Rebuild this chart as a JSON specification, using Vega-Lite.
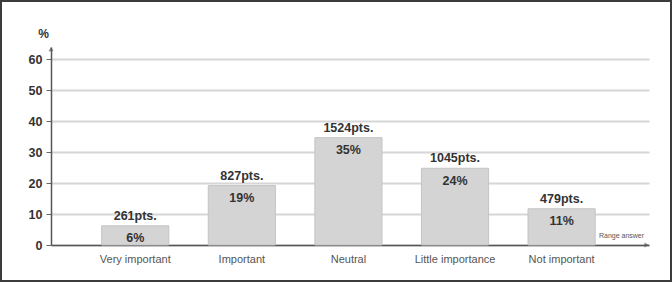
{
  "$schema": "https://vega.github.io/schema/vega-lite/v6.json",
  "autosize": {"type": "none"},
  "padding": {"left": 1, "top": 1, "right": 1, "bottom": 1},
  "width": 670,
  "height": 280,
  "config": {
    "view": {"stroke": "#3c3c3c", "strokeWidth": 2},
    "font": "Liberation Sans"
  },
  "datasets": {
    "answers": [
      {"answer": "Very important", "pct": 6.2, "pctLabel": "6%", "pts": "261pts."},
      {"answer": "Important", "pct": 19.2, "pctLabel": "19%", "pts": "827pts."},
      {"answer": "Neutral", "pct": 34.7, "pctLabel": "35%", "pts": "1524pts."},
      {"answer": "Little importance", "pct": 24.8, "pctLabel": "24%", "pts": "1045pts."},
      {"answer": "Not important", "pct": 11.7, "pctLabel": "11%", "pts": "479pts."}
    ],
    "arrows": [
      {"ax": 0, "ay": 63.3, "dir": "up"},
      {"ax": 0.996, "ay": 0, "dir": "right"}
    ]
  },
  "layer": [
    {
      "data": {"name": "answers"},
      "encoding": {
        "x": {
          "field": "answer", "type": "nominal", "sort": null,
          "scale": {"range": [50, 648], "paddingInner": 0.37, "paddingOuter": 0.49, "align": 0.485},
          "axis": {
            "orient": "bottom", "offset": -36, "title": "Range answer",
            "titleFontSize": 7, "titleFontWeight": "normal", "titleColor": "#555",
            "titleX": 620, "titleY": -10, "titleAlign": "center", "titleBaseline": "middle",
            "labelAngle": 0, "labelFontSize": 11, "labelColor": "#555", "labelPadding": 8,
            "ticks": false, "domainColor": "#555", "domainWidth": 1.5, "grid": false
          }
        },
        "y": {
          "field": "pct", "type": "quantitative",
          "scale": {"domain": [0, 64], "range": [244, 46], "nice": false},
          "axis": {
            "offset": -50, "values": [0, 10, 20, 30, 40, 50, 60],
            "title": "%", "titleAngle": 0, "titleX": -8, "titleY": 32.5,
            "titleAlign": "center", "titleBaseline": "middle",
            "titleFontSize": 12, "titleFontWeight": "bold", "titleColor": "#333",
            "labelFontSize": 12.5, "labelFontWeight": "bold", "labelColor": "#333",
            "labelPadding": 4, "tickSize": 5, "tickColor": "#666",
            "domainColor": "#555", "domainWidth": 1.5,
            "gridColor": "#d6d6d6", "gridWidth": 2
          }
        }
      },
      "layer": [
        {"mark": {"type": "bar", "fill": "#d4d4d4", "stroke": "#c4c4c4", "strokeWidth": 1}},
        {
          "mark": {"type": "text", "fontSize": 12.5, "fontWeight": "bold", "color": "#333", "baseline": "middle", "dy": -10},
          "encoding": {"text": {"field": "pts"}}
        },
        {
          "mark": {"type": "text", "fontSize": 12.5, "fontWeight": "bold", "color": "#333", "baseline": "middle", "dy": 12.5},
          "encoding": {"text": {"field": "pctLabel"}}
        }
      ]
    },
    {
      "data": {"name": "arrows"},
      "transform": [{"filter": "datum.dir == 'up'"}],
      "mark": {"type": "point", "shape": "triangle-up", "filled": true, "size": 25, "color": "#555"},
      "encoding": {
        "x": {"field": "ax", "type": "quantitative", "scale": {"domain": [0, 1], "range": [50, 648]}, "axis": null},
        "y": {"field": "ay", "type": "quantitative"}
      }
    },
    {
      "data": {"name": "arrows"},
      "transform": [{"filter": "datum.dir == 'right'"}],
      "mark": {"type": "point", "shape": "triangle-right", "filled": true, "size": 25, "color": "#555"},
      "encoding": {
        "x": {"field": "ax", "type": "quantitative", "scale": {"domain": [0, 1], "range": [50, 648]}, "axis": null},
        "y": {"field": "ay", "type": "quantitative"}
      }
    }
  ],
  "resolve": {"scale": {"x": "independent"}}
}
